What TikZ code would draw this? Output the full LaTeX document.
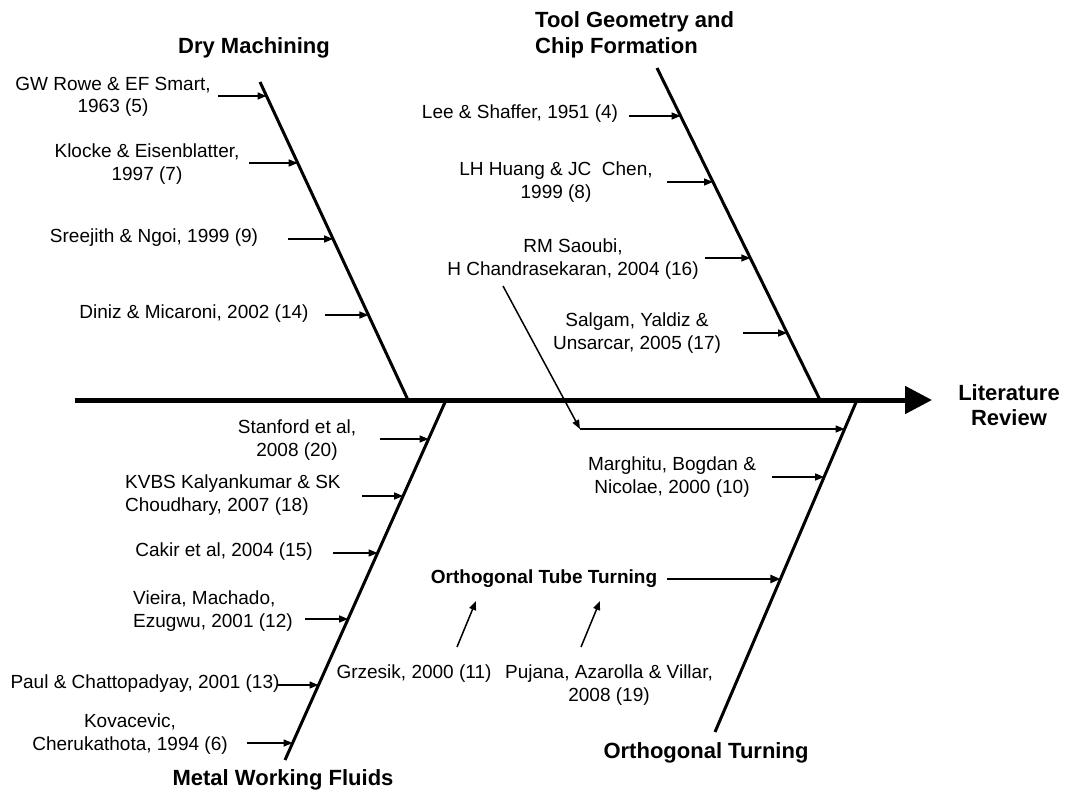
\documentclass[tikz,border=0pt]{standalone}
\usepackage{fontspec}
\setmainfont{Liberation Sans}
\usetikzlibrary{arrows.meta}
\begin{document}
\begin{tikzpicture}[x=1pt,y=-1pt,
  ref/.style={font=\fontsize{19}{22.5}\selectfont, align=center, inner sep=0pt},
  head/.style={font=\fontsize{22}{25.5}\selectfont\bfseries, align=center, inner sep=0pt},
  subhead/.style={font=\fontsize{19}{22}\selectfont\bfseries, align=center, inner sep=0pt},
  bone/.style={line width=3pt},
  spine/.style={line width=5pt, -{Triangle[length=27pt,width=27pt]}},
  cite/.style={line width=1.5pt, -{Triangle[length=9pt,width=7pt]}},
  citebold/.style={line width=2.4pt, -{Triangle[length=10pt,width=8pt]}}]
\path[use as bounding box] (0,0) rectangle (1067,794);

% main spine
\coordinate (s0) at (75,400);
\coordinate (s1) at (932,400);
\draw[spine] (s0) -- (s1);

% bones
\coordinate (dA) at (260,82);  \coordinate (dB) at (408,400);
\coordinate (tA) at (657,68);  \coordinate (tB) at (820,400);
\coordinate (mA) at (446,400); \coordinate (mB) at (285,760);
\coordinate (oA) at (857,400); \coordinate (oB) at (715,732);
\draw[bone] (dA) -- (dB);
\draw[bone] (tA) -- (tB);
\draw[bone] (mA) -- (mB);
\draw[bone] (oA) -- (oB);

% headings
\node[head] (dry) at (254,48) {Dry Machining};
\node[head, align=left, anchor=west] (tool) at (535,35) {Tool Geometry and\\Chip Formation};
\node[head] (mwf) at (283,780) {Metal Working Fluids};
\node[head] (ot) at (706,753) {Orthogonal Turning};
\node[head] (lit) at (1009,405) {Literature\\Review};
\node[subhead] (ott) at (544,579) {Orthogonal Tube Turning};

% Dry machining references
\node[ref] (gw) at (113,97) {GW Rowe \& EF Smart,\\1963 (5)};
\node[ref] (kl) at (147,164) {Klocke \& Eisenblatter,\\1997 (7)};
\node[ref] (sr) at (154,238) {Sreejith \& Ngoi, 1999 (9)};
\node[ref] (di) at (194,314) {Diniz \& Micaroni, 2002 (14)};
\coordinate (gw0) at (218,96);  \coordinate (gw1) at (266.5,96);
\coordinate (kl0) at (249,163); \coordinate (kl1) at (297.7,163);
\coordinate (sr0) at (288,239); \coordinate (sr1) at (333.1,239);
\coordinate (di0) at (325,315); \coordinate (di1) at (368.4,315);
\draw[cite] (gw0) -- (gw1);
\draw[cite] (kl0) -- (kl1);
\draw[cite] (sr0) -- (sr1);
\draw[cite] (di0) -- (di1);

% Tool geometry references
\node[ref] (le) at (520,114) {Lee \& Shaffer, 1951 (4)};
\node[ref] (lh) at (556,182) {LH Huang \& JC\ \ Chen,\\1999 (8)};
\node[ref] (rm) at (573,259) {RM Saoubi,\\H Chandrasekaran, 2004 (16)};
\node[ref] (sa) at (637,333) {Salgam, Yaldiz \&\\Unsarcar, 2005 (17)};
\coordinate (le0) at (629,116); \coordinate (le1) at (680.6,116);
\coordinate (lh0) at (667,182); \coordinate (lh1) at (713,182);
\coordinate (rm0) at (705,258); \coordinate (rm1) at (750.3,258);
\coordinate (sa0) at (743,333); \coordinate (sa1) at (787.1,333);
\draw[cite] (le0) -- (le1);
\draw[cite] (lh0) -- (lh1);
\draw[cite] (rm0) -- (rm1);
\draw[cite] (sa0) -- (sa1);

% Saoubi link to orthogonal turning
\coordinate (rl0) at (503,286);
\coordinate (rl1) at (580,429);
\coordinate (rl2) at (844.6,429);
\draw[cite] (rl0) -- (rl1);
\draw[cite] (rl1) -- (rl2);

% Metal working fluids references
\node[ref] (st) at (297,440) {Stanford et al,\\2008 (20)};
\node[ref, align=left, anchor=west] (kv) at (125,495) {KVBS Kalyankumar \& SK\\Choudhary, 2007 (18)};
\node[ref] (ca) at (224,552) {Cakir et al, 2004 (15)};
\node[ref, align=left, anchor=west] (vi) at (133,611) {Vieira, Machado,\\Ezugwu, 2001 (12)};
\node[ref] (pa) at (145,684) {Paul \& Chattopadyay, 2001 (13)};
\node[ref] (ko) at (130,734) {Kovacevic,\\Cherukathota, 1994 (6)};
\coordinate (st0) at (380,439); \coordinate (st1) at (428.6,439);
\coordinate (kv0) at (362,496); \coordinate (kv1) at (403.1,496);
\coordinate (ca0) at (333,553); \coordinate (ca1) at (377.6,553);
\coordinate (vi0) at (305,619); \coordinate (vi1) at (348.1,619);
\coordinate (pa0) at (278,685); \coordinate (pa1) at (318.5,685);
\coordinate (ko0) at (247,743); \coordinate (ko1) at (292.6,743);
\draw[cite] (st0) -- (st1);
\draw[cite] (kv0) -- (kv1);
\draw[cite] (ca0) -- (ca1);
\draw[cite] (vi0) -- (vi1);
\draw[cite] (pa0) -- (pa1);
\draw[cite] (ko0) -- (ko1);

% Orthogonal turning references
\node[ref] (ma) at (672,477) {Marghitu, Bogdan \&\\Nicolae, 2000 (10)};
\node[ref] (gr) at (414,674) {Grzesik, 2000 (11)};
\node[ref] (pu) at (609,685) {Pujana, Azarolla \& Villar,\\2008 (19)};
\coordinate (ma0) at (772,477); \coordinate (ma1) at (824.1,477);
\coordinate (ot0) at (667,579); \coordinate (ot1) at (780.4,579);
\coordinate (gr0) at (457,647); \coordinate (gr1) at (476,601);
\coordinate (pu0) at (581,647); \coordinate (pu1) at (600,601);
\draw[cite] (ma0) -- (ma1);
\draw[citebold] (ot0) -- (ot1);
\draw[cite] (gr0) -- (gr1);
\draw[cite] (pu0) -- (pu1);
\end{tikzpicture}
\end{document}
